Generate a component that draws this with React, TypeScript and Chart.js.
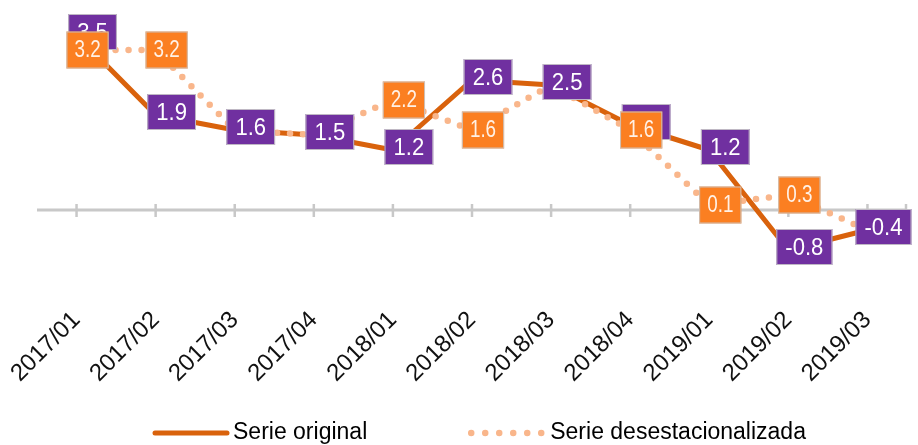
import { useEffect, useRef } from 'react';
import { Chart, registerables } from 'chart.js';

Chart.register(...registerables);

const categories = [
  '2017/01', '2017/02', '2017/03', '2017/04',
  '2018/01', '2018/02', '2018/03', '2018/04',
  '2019/01', '2019/02', '2019/03',
];
const serieOriginal = [3.5, 1.9, 1.6, 1.5, 1.2, 2.6, 2.5, 1.7, 1.2, -0.8, -0.4];
const serieDesestacionalizada = [3.2, 3.2, 1.6, 1.5, 2.2, 1.6, 2.5, 1.6, 0.1, 0.3, -0.4];
const seriesNames = ['Serie original', 'Serie desestacionalizada'];

const SOLID = '#D9620C';
const DOTTED = '#F9B68B';
const PURPLE = '#7030A0';
const ORANGE = '#FB7F21';
const AXIS = '#C8C8C8';
const FONT = '"Liberation Sans", Arial, sans-serif';

const axisPlugin = {
  id: 'zeroAxis',
  beforeDatasetsDraw(chart: any) {
    const { ctx, chartArea, scales } = chart;
    const y0 = scales.y.getPixelForValue(0);
    ctx.save();
    ctx.strokeStyle = AXIS;
    ctx.lineWidth = 3;
    ctx.beginPath();
    ctx.moveTo(chartArea.left, y0);
    ctx.lineTo(chartArea.right, y0);
    ctx.stroke();
    ctx.lineWidth = 2.5;
    const xs: number[] = chart.data.labels.map((_: any, i: number) => scales.x.getPixelForValue(i));
    xs.push(chartArea.right - 1);
    xs.forEach((x) => {
      ctx.beginPath();
      ctx.moveTo(x, y0 - 6);
      ctx.lineTo(x, y0 + 7);
      ctx.stroke();
    });
    ctx.restore();
  },
};

const boxPlugin = {
  id: 'valueBoxes',
  afterDatasetsDraw(chart: any) {
    const { ctx } = chart;
    const specs = [
      { ds: 0, fill: PURPLE, color: '#FFFFFF', font: `24px ${FONT}`, sx: 0.92, dx: 16, dy: -3, padX: 9, h: 36 },
      { ds: 1, fill: ORANGE, color: '#FFF1E6', font: `23px ${FONT}`, sx: 0.82, dx: 11, dy: 0, padX: 8, h: 37 },
    ];
    const base = chart.data.datasets[0].data;
    specs.forEach((s) => {
      const meta = chart.getDatasetMeta(s.ds);
      const values = chart.data.datasets[s.ds].data;
      meta.data.forEach((pt: any, i: number) => {
        const v = values[i];
        if (s.ds === 1 && v === base[i]) return;
        const txt = v.toFixed(1);
        ctx.save();
        ctx.font = s.font;
        const tw = ctx.measureText(txt).width * s.sx;
        const w = tw + s.padX * 2;
        const cx = pt.x + s.dx;
        const cy = pt.y + s.dy;
        ctx.fillStyle = s.fill;
        ctx.fillRect(cx - w / 2, cy - s.h / 2, w, s.h);
        ctx.strokeStyle = 'rgba(200,200,200,0.9)';
        ctx.lineWidth = 1;
        ctx.strokeRect(cx - w / 2 + 0.5, cy - s.h / 2 + 0.5, w - 1, s.h - 1);
        ctx.fillStyle = s.color;
        ctx.textAlign = 'center';
        ctx.textBaseline = 'middle';
        ctx.translate(cx, cy + 1);
        ctx.scale(s.sx, 1);
        ctx.fillText(txt, 0, 0);
        ctx.restore();
      });
    });
  },
};

const legendPlugin = {
  id: 'lineLegend',
  afterDraw(chart: any) {
    const { ctx, chartArea } = chart;
    const ds = chart.data.datasets;
    const y = chart.height - 12;
    let x = chartArea.left + 118;
    ctx.save();
    ctx.font = `23px ${FONT}`;
    ctx.textBaseline = 'middle';
    ctx.textAlign = 'left';
    ctx.strokeStyle = ds[0].borderColor;
    ctx.lineWidth = 5;
    ctx.lineCap = 'round';
    ctx.setLineDash([]);
    ctx.beginPath();
    ctx.moveTo(x, y);
    ctx.lineTo(x + 72, y);
    ctx.stroke();
    x += 78;
    ctx.fillStyle = '#000';
    ctx.fillText(ds[0].label, x, y);
    x += ctx.measureText(ds[0].label).width + 104;
    ctx.strokeStyle = ds[1].borderColor;
    ctx.lineWidth = 6.5;
    ctx.setLineDash([0, 14]);
    ctx.beginPath();
    ctx.moveTo(x, y);
    ctx.lineTo(x + 71, y);
    ctx.stroke();
    ctx.setLineDash([]);
    x += 79;
    ctx.fillText(ds[1].label, x, y);
    ctx.restore();
  },
};

export default function App() {
  const ref = useRef<HTMLCanvasElement | null>(null);

  useEffect(() => {
    if (!ref.current) return;
    const chart = new Chart(ref.current, {
      type: 'line',
      data: {
        labels: categories,
        datasets: [
          {
            label: seriesNames[0],
            data: serieOriginal,
            borderColor: SOLID,
            backgroundColor: SOLID,
            borderWidth: 5,
            pointRadius: 0,
            tension: 0,
            borderJoinStyle: 'round',
            order: 2,
          },
          {
            label: seriesNames[1],
            data: serieDesestacionalizada,
            borderColor: DOTTED,
            backgroundColor: DOTTED,
            borderWidth: 6.5,
            borderDash: [0, 13],
            borderCapStyle: 'round',
            pointRadius: 0,
            tension: 0,
            order: 1,
          },
        ],
      },
      options: {
        animation: false,
        responsive: false,
        layout: { padding: { left: 37, right: 11, top: 10, bottom: 50 } },
        scales: {
          x: {
            type: 'category',
            offset: true,
            grid: { display: false, drawTicks: false },
            border: { display: false },
            ticks: {
              color: '#111',
              font: { family: FONT, size: 24 },
              minRotation: 45,
              maxRotation: 45,
              autoSkip: false,
              padding: 16,
            },
            afterFit: (s: any) => {
              s.height = 105;
              s.paddingLeft = 0;
              s.paddingRight = 0;
            },
          },
          y: { display: false, min: -1.6, max: 4 },
        },
        plugins: {
          legend: { display: false },
          tooltip: { enabled: false },
        },
      },
      plugins: [axisPlugin, boxPlugin, legendPlugin],
    });
    return () => chart.destroy();
  }, []);

  return (
    <div style={{ position: 'absolute', left: 0, top: 0, width: 918, height: 445, background: '#fff' }}>
      <canvas ref={ref} width={918} height={445} style={{ display: 'block' }} />
    </div>
  );
}
